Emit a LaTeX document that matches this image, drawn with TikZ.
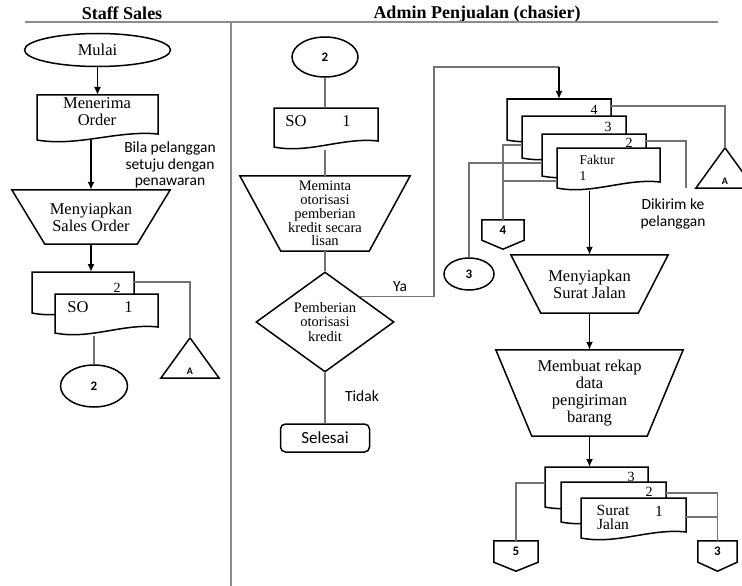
\documentclass[tikz,border=0pt]{standalone}
\usepackage{fontspec}
\setmainfont{Liberation Serif}
\setsansfont{Carlito}
\usetikzlibrary{shapes.geometric,arrows.meta}

\definecolor{linegray}{gray}{0.45}
\definecolor{lanegray}{gray}{0.55}

% document symbol: empty node plus wavy outline
\newcommand{\docnode}[4]{%
  \node[docbox, minimum width=#3pt, minimum height=#4pt] (#1) at (#2) {};
  \draw[outline, fill=white] (#1.north west) -- (#1.north east) -- ([yshift=6pt]#1.south east)
    .. controls ([xshift=-#3pt/3, yshift=10pt]#1.south east) and ([xshift=#3pt/3, yshift=-7pt]#1.south west) .. (#1.south west) -- cycle;}
\newcommand{\trapout}[2]{\draw[outline] (#1.north west) -- (#1.north east) -- ([xshift=-#2pt]#1.south east) -- ([xshift=#2pt]#1.south west) -- cycle;}
\newcommand{\offpage}[1]{\draw[outline] (#1.north west) -- (#1.north east) -- (#1.south east) -- ([yshift=-9pt]#1.south) -- (#1.south west) -- cycle;}
\newcommand{\triout}[1]{\draw[outline] (#1.south west) -- (#1.north) -- (#1.south east) -- cycle;}

\begin{document}
\begin{tikzpicture}[x=1pt, y=-1pt,
    outline/.style={draw=black, line width=1.5pt},
    docbox/.style={inner sep=0pt, outer sep=0pt},
    flow/.style={line width=1.8pt, -{Latex[length=8pt,width=7pt]}},
    conn/.style={draw=linegray, line width=1.1pt},
    lane/.style={draw=lanegray, line width=1.6pt},
    head/.style={font=\bfseries\fontsize{18}{18}\selectfont},
    txt/.style={font=\fontsize{16.5}{17}\selectfont, align=center},
    txts/.style={font=\fontsize{14.5}{13.8}\selectfont, align=center},
    note/.style={font=\sffamily\fontsize{15.5}{16.5}\selectfont, align=center},
    num/.style={font=\sffamily\bfseries\fontsize{13}{13}\selectfont},
    pagenum/.style={font=\fontsize{14}{14}\selectfont, inner sep=0pt},
    circ/.style={draw, outline, ellipse, inner sep=0pt, num},
    offp/.style={inner sep=0pt, num},
    tri/.style={inner sep=0pt, minimum width=58pt, minimum height=40pt, text height=32pt,
      font=\sffamily\bfseries\fontsize{10}{10}\selectfont}]
    \useasboundingbox (0,0) rectangle (742,586);

    % swimlanes
    \node[head] (h-sales) at (122,13) {Staff Sales};
    \node[head] (h-admin) at (477,14) {Admin Penjualan (chasier)};
    \coordinate (lane-l) at (25,22);
    \coordinate (lane-r) at (718,22);
    \coordinate (lane-m) at (231,22);
    \coordinate (lane-b) at (231,586);
    \draw[lane] (lane-l) -- (lane-r);
    \draw[lane] (lane-m) -- (lane-b);

    % Staff Sales
    \node[draw, outline, ellipse, minimum width=146pt, minimum height=33pt, txt] (mulai) at (97.5,50) {Mulai};
    \docnode{terima}{97.5,117.5}{121}{45}
    \node[txt] (terima-t) at (97,112) {Menerima\\Order};
    \draw[flow] (mulai.south) -- (terima.north);

    \node[txt, minimum width=158pt, minimum height=54pt, inner sep=0pt] (sopre) at (91,217) {Menyiapkan\\Sales Order};
    \trapout{sopre}{33}
    \draw[flow] (terima.south -| sopre.north) -- (sopre.north);
    \node[note] (setuju) at (170,165) {Bila pelanggan\\setuju dengan\\penawaran};

    \docnode{so2}{83,292.5}{102}{41}
    \node[pagenum] (so2-n) at (117,288) {2};
    \docnode{so1}{106.5,313.5}{103}{39}
    \node[txt] (so1-t) at (100,307) {SO\hspace{36pt}1};
    \draw[flow] (sopre.south) -- (sopre.south |- so2.north);

    \node[tri] (tri1) at (190,358) {A};
    \triout{tri1}
    \draw[conn] ([yshift=-10pt]so2.north east) -| (tri1.north);
    \node[circ, minimum width=67pt, minimum height=42pt] (c2a) at (94,386) {2};
    \draw[conn] ([yshift=-3pt]so1.south -| c2a.north) -- (c2a.north);

    % Admin Penjualan, left column
    \node[circ, minimum width=66pt, minimum height=40pt] (c2b) at (325,57) {2};
    \docnode{so1b}{326,127.5}{104}{39}
    \node[txt] (so1b-t) at (318,121) {SO\hspace{36pt}1};
    \draw[conn] (c2b.south) -- (c2b.south |- so1b.north);
    \node[txts, minimum width=170pt, minimum height=75pt, inner sep=0pt] (minta) at (325,213.5) {Meminta\\otorisasi\\pemberian\\kredit secara\\lisan};
    \trapout{minta}{41}
    \draw[conn] ([yshift=-3pt]so1b.south -| minta.north) -- (minta.north);
    \node[diamond, draw, outline, aspect=1.38, minimum width=138pt, minimum height=100pt, inner sep=0pt,
      txts, font=\fontsize{14.5}{14.5}\selectfont] (otor) at (325,322) {Pemberian\\otorisasi\\kredit};
    \draw[conn] (minta.south) -- (otor.north);
    \node[note] (ya) at (400,287) {Ya};
    \node[note] (tidak) at (362,396) {Tidak};
    \node[draw, outline, rounded corners=5pt, minimum width=89pt, minimum height=28pt, note,
      font=\sffamily\fontsize{17}{17}\selectfont] (selesai) at (325,438) {Selesai};
    \draw[conn] (otor.south) -- (selesai.north);

    % Admin Penjualan, right column
    \docnode{f4}{559,119.5}{104}{41}
    \node[pagenum] (f4-n) at (594,110) {4};
    \docnode{f3}{574,137}{104}{42}
    \node[pagenum] (f3-n) at (608,127) {3};
    \docnode{f2}{594,155}{104}{42}
    \node[pagenum] (f2-n) at (629,143) {2};
    \docnode{f1}{608.5,168}{103}{40}
    \node[font=\fontsize{13.5}{16}\selectfont, align=left, anchor=west] (f1-t) at (576,168) {Faktur\\1};

    \coordinate (ya-up) at (434,67);
    \draw[conn] (otor.north east) -| (ya-up) -- (ya-up -| f4.north);
    \draw[flow] (ya-up -| f4.north) -- (f4.north);

    \node[tri] (tri2) at (725,168) {A};
    \triout{tri2}
    \draw[conn] ([yshift=-7pt]f4.north east) -| (tri2.north);
    \coordinate (kirim) at (686,188);
    \draw[conn] ([yshift=-7pt]f2.north east) -| (kirim);
    \node[note] (kirim-t) at (673,214) {Dikirim ke\\pelanggan};

    \node[offp, minimum width=42pt, minimum height=20pt] (off4) at (503,230) {4};
    \offpage{off4}
    \draw[conn] ([yshift=-8pt]f3.west) -| (off4.north);
    \draw[conn] ([yshift=-13pt]f1.west) -- ([yshift=-13pt]f1.west -| off4.north);
    \node[circ, minimum width=50pt, minimum height=32pt] (c3) at (469,274) {3};
    \draw[conn] ([yshift=-8pt]f2.west) -| (c3.north);

    \node[txt, minimum width=157pt, minimum height=58pt, inner sep=0pt] (sjprep) at (589.5,284) {Menyiapkan\\Surat Jalan};
    \trapout{sjprep}{30}
    \draw[flow] ([yshift=-3pt]f1.south -| sjprep.north) -- (sjprep.north);
    \node[txt, minimum width=187pt, minimum height=86pt, inner sep=0pt] (rekap) at (589.5,393) {Membuat rekap\\data\\pengiriman\\barang};
    \trapout{rekap}{36}
    \draw[flow] (sjprep.south) -- (rekap.north);

    \docnode{sj3}{596.5,487}{103}{40}
    \node[pagenum] (sj3-n) at (631,477) {3};
    \docnode{sj2}{613.5,502}{105}{40}
    \node[pagenum] (sj2-n) at (649,492) {2};
    \docnode{sj1}{633.5,518}{105}{40}
    \node[txt, font=\fontsize{15.5}{14}\selectfont] (sj1-t) at (613,517) {Surat\\Jalan};
    \node[txt, font=\fontsize{15.5}{14}\selectfont] (sj1-n) at (659,511) {1};
    \draw[flow] (rekap.south) -- (rekap.south |- sj3.north);

    \node[offp, minimum width=44pt, minimum height=21pt] (off5) at (516,551.5) {5};
    \offpage{off5}
    \draw[conn] ([yshift=4pt]sj3.west) -| (off5.north);
    \node[offp, minimum width=39pt, minimum height=21pt] (off3) at (717.5,551.5) {3};
    \offpage{off3}
    \draw[conn] ([yshift=9pt]sj2.east) -| (off3.north);
    \draw[conn] ([yshift=1pt]sj1.east) -- ([yshift=1pt]sj1.east -| off3.north);
\end{tikzpicture}
\end{document}
